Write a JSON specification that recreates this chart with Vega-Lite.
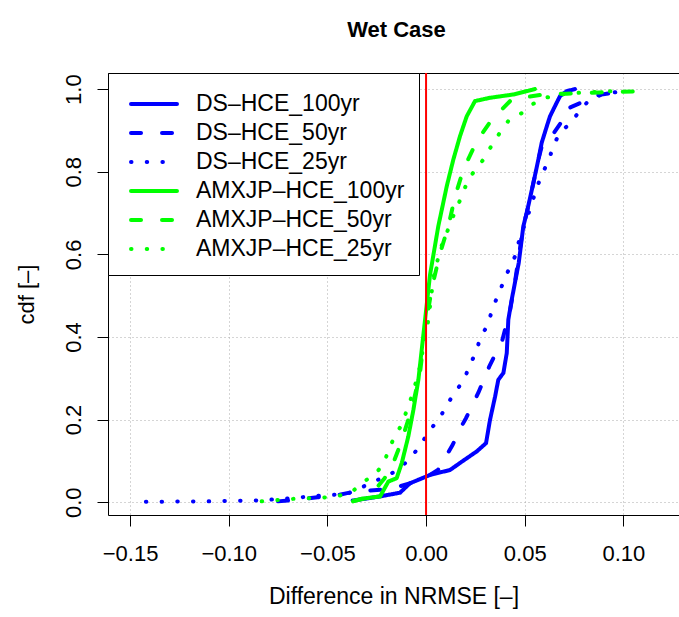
{
 "$schema": "https://vega.github.io/schema/vega-lite/v6.json",
 "autosize": "none",
 "width": 571,
 "height": 442,
 "padding": {"left": 108, "top": 73, "right": 0, "bottom": 102},
 "config": {"font": "Liberation Sans", "view": {"stroke": null}},
 "title": {"text": "Wet Case", "fontSize": 22, "fontWeight": "bold", "color": "black", "anchor": "middle", "baseline": "alphabetic", "offset": 13, "dx": 3},
 "datasets": {
  "cdfs": [
   {"series": "DS-HCE_100yr", "x": -0.0372, "cdf": 0.004},
   {"series": "DS-HCE_100yr", "x": -0.0300, "cdf": 0.009},
   {"series": "DS-HCE_100yr", "x": -0.0233, "cdf": 0.014},
   {"series": "DS-HCE_100yr", "x": -0.0132, "cdf": 0.023},
   {"series": "DS-HCE_100yr", "x": -0.0081, "cdf": 0.046},
   {"series": "DS-HCE_100yr", "x": -0.0030, "cdf": 0.056},
   {"series": "DS-HCE_100yr", "x": 0.0020, "cdf": 0.066},
   {"series": "DS-HCE_100yr", "x": 0.0122, "cdf": 0.078},
   {"series": "DS-HCE_100yr", "x": 0.0172, "cdf": 0.095},
   {"series": "DS-HCE_100yr", "x": 0.0257, "cdf": 0.123},
   {"series": "DS-HCE_100yr", "x": 0.0304, "cdf": 0.143},
   {"series": "DS-HCE_100yr", "x": 0.0324, "cdf": 0.199},
   {"series": "DS-HCE_100yr", "x": 0.0350, "cdf": 0.256},
   {"series": "DS-HCE_100yr", "x": 0.0366, "cdf": 0.296},
   {"series": "DS-HCE_100yr", "x": 0.0392, "cdf": 0.313},
   {"series": "DS-HCE_100yr", "x": 0.0409, "cdf": 0.361},
   {"series": "DS-HCE_100yr", "x": 0.0417, "cdf": 0.442},
   {"series": "DS-HCE_100yr", "x": 0.0434, "cdf": 0.490},
   {"series": "DS-HCE_100yr", "x": 0.0450, "cdf": 0.530},
   {"series": "DS-HCE_100yr", "x": 0.0470, "cdf": 0.580},
   {"series": "DS-HCE_100yr", "x": 0.0493, "cdf": 0.668},
   {"series": "DS-HCE_100yr", "x": 0.0510, "cdf": 0.700},
   {"series": "DS-HCE_100yr", "x": 0.0544, "cdf": 0.773},
   {"series": "DS-HCE_100yr", "x": 0.0569, "cdf": 0.829},
   {"series": "DS-HCE_100yr", "x": 0.0586, "cdf": 0.870},
   {"series": "DS-HCE_100yr", "x": 0.0612, "cdf": 0.910},
   {"series": "DS-HCE_100yr", "x": 0.0628, "cdf": 0.934},
   {"series": "DS-HCE_100yr", "x": 0.0662, "cdf": 0.967},
   {"series": "DS-HCE_100yr", "x": 0.0679, "cdf": 0.983},
   {"series": "DS-HCE_100yr", "x": 0.0713, "cdf": 0.995},
   {"series": "DS-HCE_100yr", "x": 0.0755, "cdf": 1.0},

   {"series": "DS-HCE_50yr", "x": -0.0750, "cdf": 0.002},
   {"series": "DS-HCE_50yr", "x": -0.0650, "cdf": 0.006},
   {"series": "DS-HCE_50yr", "x": -0.0550, "cdf": 0.012},
   {"series": "DS-HCE_50yr", "x": -0.0470, "cdf": 0.015},
   {"series": "DS-HCE_50yr", "x": -0.0400, "cdf": 0.022},
   {"series": "DS-HCE_50yr", "x": -0.0330, "cdf": 0.027},
   {"series": "DS-HCE_50yr", "x": -0.0230, "cdf": 0.030},
   {"series": "DS-HCE_50yr", "x": -0.0150, "cdf": 0.036},
   {"series": "DS-HCE_50yr", "x": -0.0050, "cdf": 0.050},
   {"series": "DS-HCE_50yr", "x": 0.0020, "cdf": 0.066},
   {"series": "DS-HCE_50yr", "x": 0.0060, "cdf": 0.078},
   {"series": "DS-HCE_50yr", "x": 0.0100, "cdf": 0.110},
   {"series": "DS-HCE_50yr", "x": 0.0135, "cdf": 0.139},
   {"series": "DS-HCE_50yr", "x": 0.0175, "cdf": 0.180},
   {"series": "DS-HCE_50yr", "x": 0.0203, "cdf": 0.204},
   {"series": "DS-HCE_50yr", "x": 0.0265, "cdf": 0.265},
   {"series": "DS-HCE_50yr", "x": 0.0320, "cdf": 0.328},
   {"series": "DS-HCE_50yr", "x": 0.0387, "cdf": 0.393},
   {"series": "DS-HCE_50yr", "x": 0.0426, "cdf": 0.465},
   {"series": "DS-HCE_50yr", "x": 0.0450, "cdf": 0.531},
   {"series": "DS-HCE_50yr", "x": 0.0493, "cdf": 0.668},
   {"series": "DS-HCE_50yr", "x": 0.0510, "cdf": 0.700},
   {"series": "DS-HCE_50yr", "x": 0.0544, "cdf": 0.773},
   {"series": "DS-HCE_50yr", "x": 0.0569, "cdf": 0.829},
   {"series": "DS-HCE_50yr", "x": 0.0590, "cdf": 0.868},
   {"series": "DS-HCE_50yr", "x": 0.0645, "cdf": 0.892},
   {"series": "DS-HCE_50yr", "x": 0.0690, "cdf": 0.923},
   {"series": "DS-HCE_50yr", "x": 0.0704, "cdf": 0.950},
   {"series": "DS-HCE_50yr", "x": 0.0780, "cdf": 0.966},
   {"series": "DS-HCE_50yr", "x": 0.0820, "cdf": 0.980},
   {"series": "DS-HCE_50yr", "x": 0.0880, "cdf": 0.986},
   {"series": "DS-HCE_50yr", "x": 0.1000, "cdf": 0.995},

   {"series": "DS-HCE_25yr", "x": -0.1420, "cdf": 0.001},
   {"series": "DS-HCE_25yr", "x": -0.1100, "cdf": 0.002},
   {"series": "DS-HCE_25yr", "x": -0.0870, "cdf": 0.004},
   {"series": "DS-HCE_25yr", "x": -0.0720, "cdf": 0.008},
   {"series": "DS-HCE_25yr", "x": -0.0571, "cdf": 0.0145},
   {"series": "DS-HCE_25yr", "x": -0.0402, "cdf": 0.020},
   {"series": "DS-HCE_25yr", "x": -0.0280, "cdf": 0.046},
   {"series": "DS-HCE_25yr", "x": -0.0149, "cdf": 0.076},
   {"series": "DS-HCE_25yr", "x": -0.0098, "cdf": 0.098},
   {"series": "DS-HCE_25yr", "x": -0.0051, "cdf": 0.124},
   {"series": "DS-HCE_25yr", "x": -0.0009, "cdf": 0.153},
   {"series": "DS-HCE_25yr", "x": 0.0034, "cdf": 0.183},
   {"series": "DS-HCE_25yr", "x": 0.0076, "cdf": 0.210},
   {"series": "DS-HCE_25yr", "x": 0.0113, "cdf": 0.241},
   {"series": "DS-HCE_25yr", "x": 0.0152, "cdf": 0.270},
   {"series": "DS-HCE_25yr", "x": 0.0193, "cdf": 0.296},
   {"series": "DS-HCE_25yr", "x": 0.0219, "cdf": 0.330},
   {"series": "DS-HCE_25yr", "x": 0.0253, "cdf": 0.362},
   {"series": "DS-HCE_25yr", "x": 0.0274, "cdf": 0.397},
   {"series": "DS-HCE_25yr", "x": 0.0311, "cdf": 0.428},
   {"series": "DS-HCE_25yr", "x": 0.0333, "cdf": 0.462},
   {"series": "DS-HCE_25yr", "x": 0.0358, "cdf": 0.494},
   {"series": "DS-HCE_25yr", "x": 0.0389, "cdf": 0.529},
   {"series": "DS-HCE_25yr", "x": 0.0417, "cdf": 0.561},
   {"series": "DS-HCE_25yr", "x": 0.0451, "cdf": 0.595},
   {"series": "DS-HCE_25yr", "x": 0.0468, "cdf": 0.627},
   {"series": "DS-HCE_25yr", "x": 0.0520, "cdf": 0.700},
   {"series": "DS-HCE_25yr", "x": 0.0564, "cdf": 0.765},
   {"series": "DS-HCE_25yr", "x": 0.0591, "cdf": 0.797},
   {"series": "DS-HCE_25yr", "x": 0.0623, "cdf": 0.829},
   {"series": "DS-HCE_25yr", "x": 0.0645, "cdf": 0.863},
   {"series": "DS-HCE_25yr", "x": 0.0679, "cdf": 0.895},
   {"series": "DS-HCE_25yr", "x": 0.0733, "cdf": 0.918},
   {"series": "DS-HCE_25yr", "x": 0.0775, "cdf": 0.945},
   {"series": "DS-HCE_25yr", "x": 0.0820, "cdf": 0.970},
   {"series": "DS-HCE_25yr", "x": 0.0890, "cdf": 0.987},
   {"series": "DS-HCE_25yr", "x": 0.0967, "cdf": 0.993},
   {"series": "DS-HCE_25yr", "x": 0.0990, "cdf": 0.997},

   {"series": "AMXJP-HCE_100yr", "x": -0.0368, "cdf": 0.003},
   {"series": "AMXJP-HCE_100yr", "x": -0.0300, "cdf": 0.010},
   {"series": "AMXJP-HCE_100yr", "x": -0.0233, "cdf": 0.014},
   {"series": "AMXJP-HCE_100yr", "x": -0.0191, "cdf": 0.050},
   {"series": "AMXJP-HCE_100yr", "x": -0.0149, "cdf": 0.058},
   {"series": "AMXJP-HCE_100yr", "x": -0.0123, "cdf": 0.095},
   {"series": "AMXJP-HCE_100yr", "x": -0.0090, "cdf": 0.159},
   {"series": "AMXJP-HCE_100yr", "x": -0.0064, "cdf": 0.224},
   {"series": "AMXJP-HCE_100yr", "x": -0.0039, "cdf": 0.296},
   {"series": "AMXJP-HCE_100yr", "x": -0.0022, "cdf": 0.369},
   {"series": "AMXJP-HCE_100yr", "x": -0.0005, "cdf": 0.442},
   {"series": "AMXJP-HCE_100yr", "x": 0.0020, "cdf": 0.550},
   {"series": "AMXJP-HCE_100yr", "x": 0.0062, "cdf": 0.668},
   {"series": "AMXJP-HCE_100yr", "x": 0.0105, "cdf": 0.765},
   {"series": "AMXJP-HCE_100yr", "x": 0.0138, "cdf": 0.829},
   {"series": "AMXJP-HCE_100yr", "x": 0.0172, "cdf": 0.886},
   {"series": "AMXJP-HCE_100yr", "x": 0.0206, "cdf": 0.934},
   {"series": "AMXJP-HCE_100yr", "x": 0.0248, "cdf": 0.971},
   {"series": "AMXJP-HCE_100yr", "x": 0.0324, "cdf": 0.979},
   {"series": "AMXJP-HCE_100yr", "x": 0.0443, "cdf": 0.987},
   {"series": "AMXJP-HCE_100yr", "x": 0.0552, "cdf": 1.0},

   {"series": "AMXJP-HCE_50yr", "x": -0.0370, "cdf": 0.002},
   {"series": "AMXJP-HCE_50yr", "x": -0.0300, "cdf": 0.012},
   {"series": "AMXJP-HCE_50yr", "x": -0.0250, "cdf": 0.035},
   {"series": "AMXJP-HCE_50yr", "x": -0.0210, "cdf": 0.058},
   {"series": "AMXJP-HCE_50yr", "x": -0.0170, "cdf": 0.090},
   {"series": "AMXJP-HCE_50yr", "x": -0.0130, "cdf": 0.140},
   {"series": "AMXJP-HCE_50yr", "x": -0.0090, "cdf": 0.200},
   {"series": "AMXJP-HCE_50yr", "x": -0.0063, "cdf": 0.245},
   {"series": "AMXJP-HCE_50yr", "x": -0.0030, "cdf": 0.315},
   {"series": "AMXJP-HCE_50yr", "x": -0.0005, "cdf": 0.420},
   {"series": "AMXJP-HCE_50yr", "x": 0.0030, "cdf": 0.520},
   {"series": "AMXJP-HCE_50yr", "x": 0.0071, "cdf": 0.603},
   {"series": "AMXJP-HCE_50yr", "x": 0.0113, "cdf": 0.668},
   {"series": "AMXJP-HCE_50yr", "x": 0.0147, "cdf": 0.740},
   {"series": "AMXJP-HCE_50yr", "x": 0.0189, "cdf": 0.805},
   {"series": "AMXJP-HCE_50yr", "x": 0.0257, "cdf": 0.874},
   {"series": "AMXJP-HCE_50yr", "x": 0.0333, "cdf": 0.926},
   {"series": "AMXJP-HCE_50yr", "x": 0.0434, "cdf": 0.975},
   {"series": "AMXJP-HCE_50yr", "x": 0.0595, "cdf": 0.987},
   {"series": "AMXJP-HCE_50yr", "x": 0.0713, "cdf": 0.989},
   {"series": "AMXJP-HCE_50yr", "x": 0.0882, "cdf": 0.992},
   {"series": "AMXJP-HCE_50yr", "x": 0.1080, "cdf": 0.995},

   {"series": "AMXJP-HCE_25yr", "x": -0.0833, "cdf": 0.002},
   {"series": "AMXJP-HCE_25yr", "x": -0.0676, "cdf": 0.008},
   {"series": "AMXJP-HCE_25yr", "x": -0.0524, "cdf": 0.011},
   {"series": "AMXJP-HCE_25yr", "x": -0.0444, "cdf": 0.015},
   {"series": "AMXJP-HCE_25yr", "x": -0.0373, "cdf": 0.026},
   {"series": "AMXJP-HCE_25yr", "x": -0.0318, "cdf": 0.049},
   {"series": "AMXJP-HCE_25yr", "x": -0.0257, "cdf": 0.068},
   {"series": "AMXJP-HCE_25yr", "x": -0.0213, "cdf": 0.095},
   {"series": "AMXJP-HCE_25yr", "x": -0.0189, "cdf": 0.128},
   {"series": "AMXJP-HCE_25yr", "x": -0.0159, "cdf": 0.159},
   {"series": "AMXJP-HCE_25yr", "x": -0.0123, "cdf": 0.188},
   {"series": "AMXJP-HCE_25yr", "x": -0.0098, "cdf": 0.222},
   {"series": "AMXJP-HCE_25yr", "x": -0.0073, "cdf": 0.256},
   {"series": "AMXJP-HCE_25yr", "x": -0.0051, "cdf": 0.291},
   {"series": "AMXJP-HCE_25yr", "x": -0.0030, "cdf": 0.329},
   {"series": "AMXJP-HCE_25yr", "x": -0.0014, "cdf": 0.377},
   {"series": "AMXJP-HCE_25yr", "x": 0.0012, "cdf": 0.442},
   {"series": "AMXJP-HCE_25yr", "x": 0.0037, "cdf": 0.543},
   {"series": "AMXJP-HCE_25yr", "x": 0.0071, "cdf": 0.611},
   {"series": "AMXJP-HCE_25yr", "x": 0.0105, "cdf": 0.652},
   {"series": "AMXJP-HCE_25yr", "x": 0.0130, "cdf": 0.684},
   {"series": "AMXJP-HCE_25yr", "x": 0.0159, "cdf": 0.716},
   {"series": "AMXJP-HCE_25yr", "x": 0.0186, "cdf": 0.747},
   {"series": "AMXJP-HCE_25yr", "x": 0.0214, "cdf": 0.782},
   {"series": "AMXJP-HCE_25yr", "x": 0.0257, "cdf": 0.809},
   {"series": "AMXJP-HCE_25yr", "x": 0.0301, "cdf": 0.836},
   {"series": "AMXJP-HCE_25yr", "x": 0.0336, "cdf": 0.867},
   {"series": "AMXJP-HCE_25yr", "x": 0.0375, "cdf": 0.895},
   {"series": "AMXJP-HCE_25yr", "x": 0.0417, "cdf": 0.923},
   {"series": "AMXJP-HCE_25yr", "x": 0.0485, "cdf": 0.942},
   {"series": "AMXJP-HCE_25yr", "x": 0.0541, "cdf": 0.964},
   {"series": "AMXJP-HCE_25yr", "x": 0.0603, "cdf": 0.979},
   {"series": "AMXJP-HCE_25yr", "x": 0.0700, "cdf": 0.988},
   {"series": "AMXJP-HCE_25yr", "x": 0.0800, "cdf": 0.992},
   {"series": "AMXJP-HCE_25yr", "x": 0.0980, "cdf": 0.996}
  ],
  "zero": [{"v": 0}]
 },
 "layer": [
  {
   "data": {"name": "cdfs"},
   "mark": {"type": "line", "strokeWidth": 4, "strokeCap": "round", "strokeJoin": "round", "clip": true},
   "encoding": {
    "x": {"field": "x", "type": "quantitative",
     "scale": {"domain": [-0.1612, 0.1282], "nice": false, "zero": false},
     "axis": {"values": [-0.15, -0.1, -0.05, 0, 0.05, 0.1], "format": ".2f", "title": "Difference in NRMSE [–]",
      "grid": true, "gridColor": "#aaaaaa", "gridDash": [1, 3], "gridWidth": 1,
      "domainColor": "black", "domainWidth": 1, "tickColor": "black", "tickSize": 11, "tickWidth": 1,
      "labelFontSize": 22, "labelColor": "black", "labelBaseline": "alphabetic", "labelPadding": 34, "labelFlush": false, "labelOverlap": false,
      "titleFontSize": 23, "titleFontWeight": "normal", "titleColor": "black", "titleBaseline": "alphabetic", "titleY": 88}},
    "y": {"field": "cdf", "type": "quantitative",
     "scale": {"domain": [-0.031, 1.039], "nice": false, "zero": false},
     "axis": {"values": [0, 0.2, 0.4, 0.6, 0.8, 1], "format": ".1f", "title": "cdf [–]",
      "grid": true, "gridColor": "#aaaaaa", "gridDash": [1, 3], "gridWidth": 1,
      "domainColor": "black", "domainWidth": 1, "tickColor": "black", "tickSize": 11, "tickWidth": 1,
      "labelFontSize": 22, "labelColor": "black", "labelAngle": -90, "labelAlign": "center", "labelBaseline": "alphabetic", "labelPadding": 17, "labelOverlap": false,
      "titleFontSize": 22, "titleFontWeight": "normal", "titleColor": "black", "titleAngle": -90, "titleAlign": "center", "titleBaseline": "alphabetic", "titleX": -75, "titleY": 221}},
    "color": {"field": "series", "type": "nominal",
     "scale": {"domain": ["DS-HCE_100yr", "DS-HCE_50yr", "DS-HCE_25yr", "AMXJP-HCE_100yr", "AMXJP-HCE_50yr", "AMXJP-HCE_25yr"],
      "range": ["#0000FF", "#0000FF", "#0000FF", "#00FF00", "#00FF00", "#00FF00"]},
     "legend": {"orient": "none", "legendX": 0, "legendY": 0, "title": null, "symbolType": "M-1.533,0L1.533,0", "symbolSize": 900, "symbolStrokeWidth": 4,
      "labelFontSize": 23, "labelColor": "black", "labelLimit": 400, "strokeColor": "black", "fillColor": "white", "padding": 14, "rowPadding": 0,
      "labelOffset": 25, "symbolOffset": 15, "labelExpr": "replace(datum.label, '-', '–')",
      "encode": {"symbols": {"update": {"strokeCap": {"value": "round"}}}}}},
    "strokeDash": {"field": "series", "type": "nominal",
     "scale": {"domain": ["DS-HCE_100yr", "DS-HCE_50yr", "DS-HCE_25yr", "AMXJP-HCE_100yr", "AMXJP-HCE_50yr", "AMXJP-HCE_25yr"],
      "range": [[1, 0], [10, 21], [0.5, 15.2], [1, 0], [10, 21], [0.5, 15.2]]},
     "legend": {"orient": "none", "legendX": 0, "legendY": 0, "title": null, "symbolType": "M-1.533,0L1.533,0", "symbolSize": 900, "symbolStrokeWidth": 4,
      "labelFontSize": 23, "labelColor": "black", "labelLimit": 400, "strokeColor": "black", "fillColor": "white", "padding": 14, "rowPadding": 0,
      "labelOffset": 25, "symbolOffset": 15, "labelExpr": "replace(datum.label, '-', '–')",
      "encode": {"symbols": {"update": {"strokeCap": {"value": "round"}}}}}},
    "order": {"field": "cdf", "type": "quantitative"}
   }
  },
  {
   "data": {"name": "zero"},
   "mark": {"type": "rule", "color": "#FF0000", "strokeWidth": 2},
   "encoding": {
    "x": {"field": "v", "type": "quantitative",
     "axis": {"orient": "top", "labels": false, "ticks": false, "grid": false, "domain": true, "domainColor": "black", "domainWidth": 1, "title": null}}
   }
  }
 ],
 "resolve": {"axis": {"x": "independent"}}
}
